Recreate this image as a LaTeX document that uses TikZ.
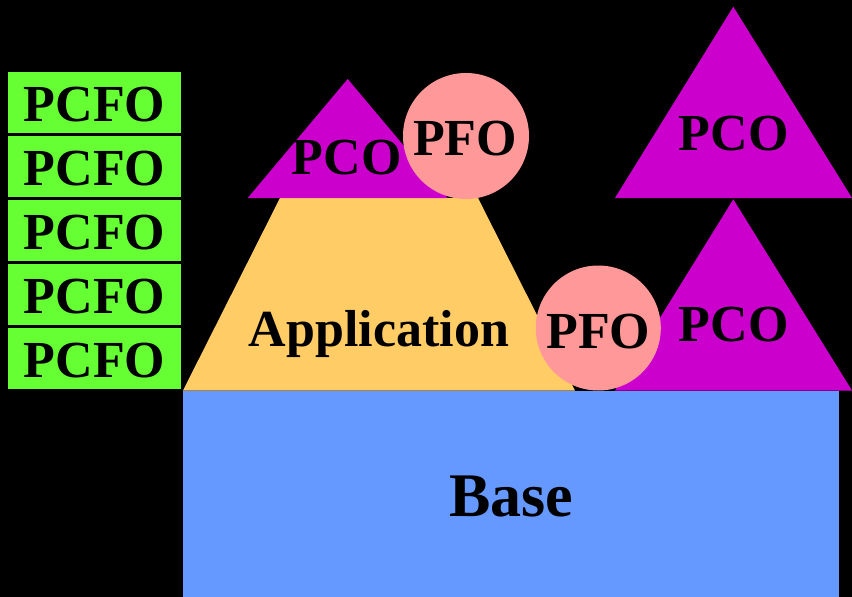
\documentclass[tikz,border=0pt]{standalone}
\usepackage{fontspec}
\setmainfont{Liberation Serif}
\definecolor{pgreen}{HTML}{66FF33}
\definecolor{pblue}{HTML}{6699FF}
\definecolor{pyellow}{HTML}{FFCC66}
\definecolor{pmag}{HTML}{CC00CC}
\definecolor{ppink}{HTML}{FF9999}
\tikzset{
  lbl/.style={anchor=base, inner sep=0pt, font=\bfseries\fontsize{52}{52}\selectfont, text=black},
  biglbl/.style={lbl, font=\bfseries\fontsize{62}{62}\selectfont},
  pcfobox/.style={fill=pgreen, draw=none},
}
\begin{document}
\begin{tikzpicture}[x=1pt,y=-1pt]
\fill[black] (0,0) rectangle (852,597);
\useasboundingbox (0,0) rectangle (852,597);
% green stack
\foreach \i in {0,...,4}{
  \fill[pgreen] (8,{72+64*\i}) rectangle (181,{133+64*\i});
  \node[lbl] (pcfo\i) at (94.5,{121.7+64*\i}) {PCFO};
}
% base
\fill[pblue] (182.5,390.5) rectangle (838.5,597);
\node[biglbl] (base) at (511,516) {Base};
% application trapezoid
\fill[pyellow] (183,390.5) -- (280,198) -- (478,198) -- (575,390.5) -- cycle;
\node[lbl] (app) at (379,346) {Application};
% small PCO triangle
\fill[pmag] (247.7,198) -- (347.7,79) -- (447.7,198) -- cycle;
\node[lbl] (pco1) at (346.7,174) {PCO};
% top PFO circle
\fill[ppink] (466,136) circle (63);
\node[lbl] (pfo1) at (465,155) {PFO};
% large PCO triangle (top right)
\fill[pmag] (615,198) -- (733.3,6.7) -- (852,198) -- cycle;
\node[lbl] (pco2) at (733.8,150) {PCO};
% lower PCO triangle
\fill[pmag] (615,390.5) -- (733.3,199.3) -- (852,390.5) -- cycle;
\node[lbl] (pco3) at (733.8,341.7) {PCO};
% lower PFO circle
\fill[ppink] (598.3,328) circle (62.5);
\node[lbl] (pfo2) at (598.3,348.3) {PFO};
\end{tikzpicture}
\end{document}
